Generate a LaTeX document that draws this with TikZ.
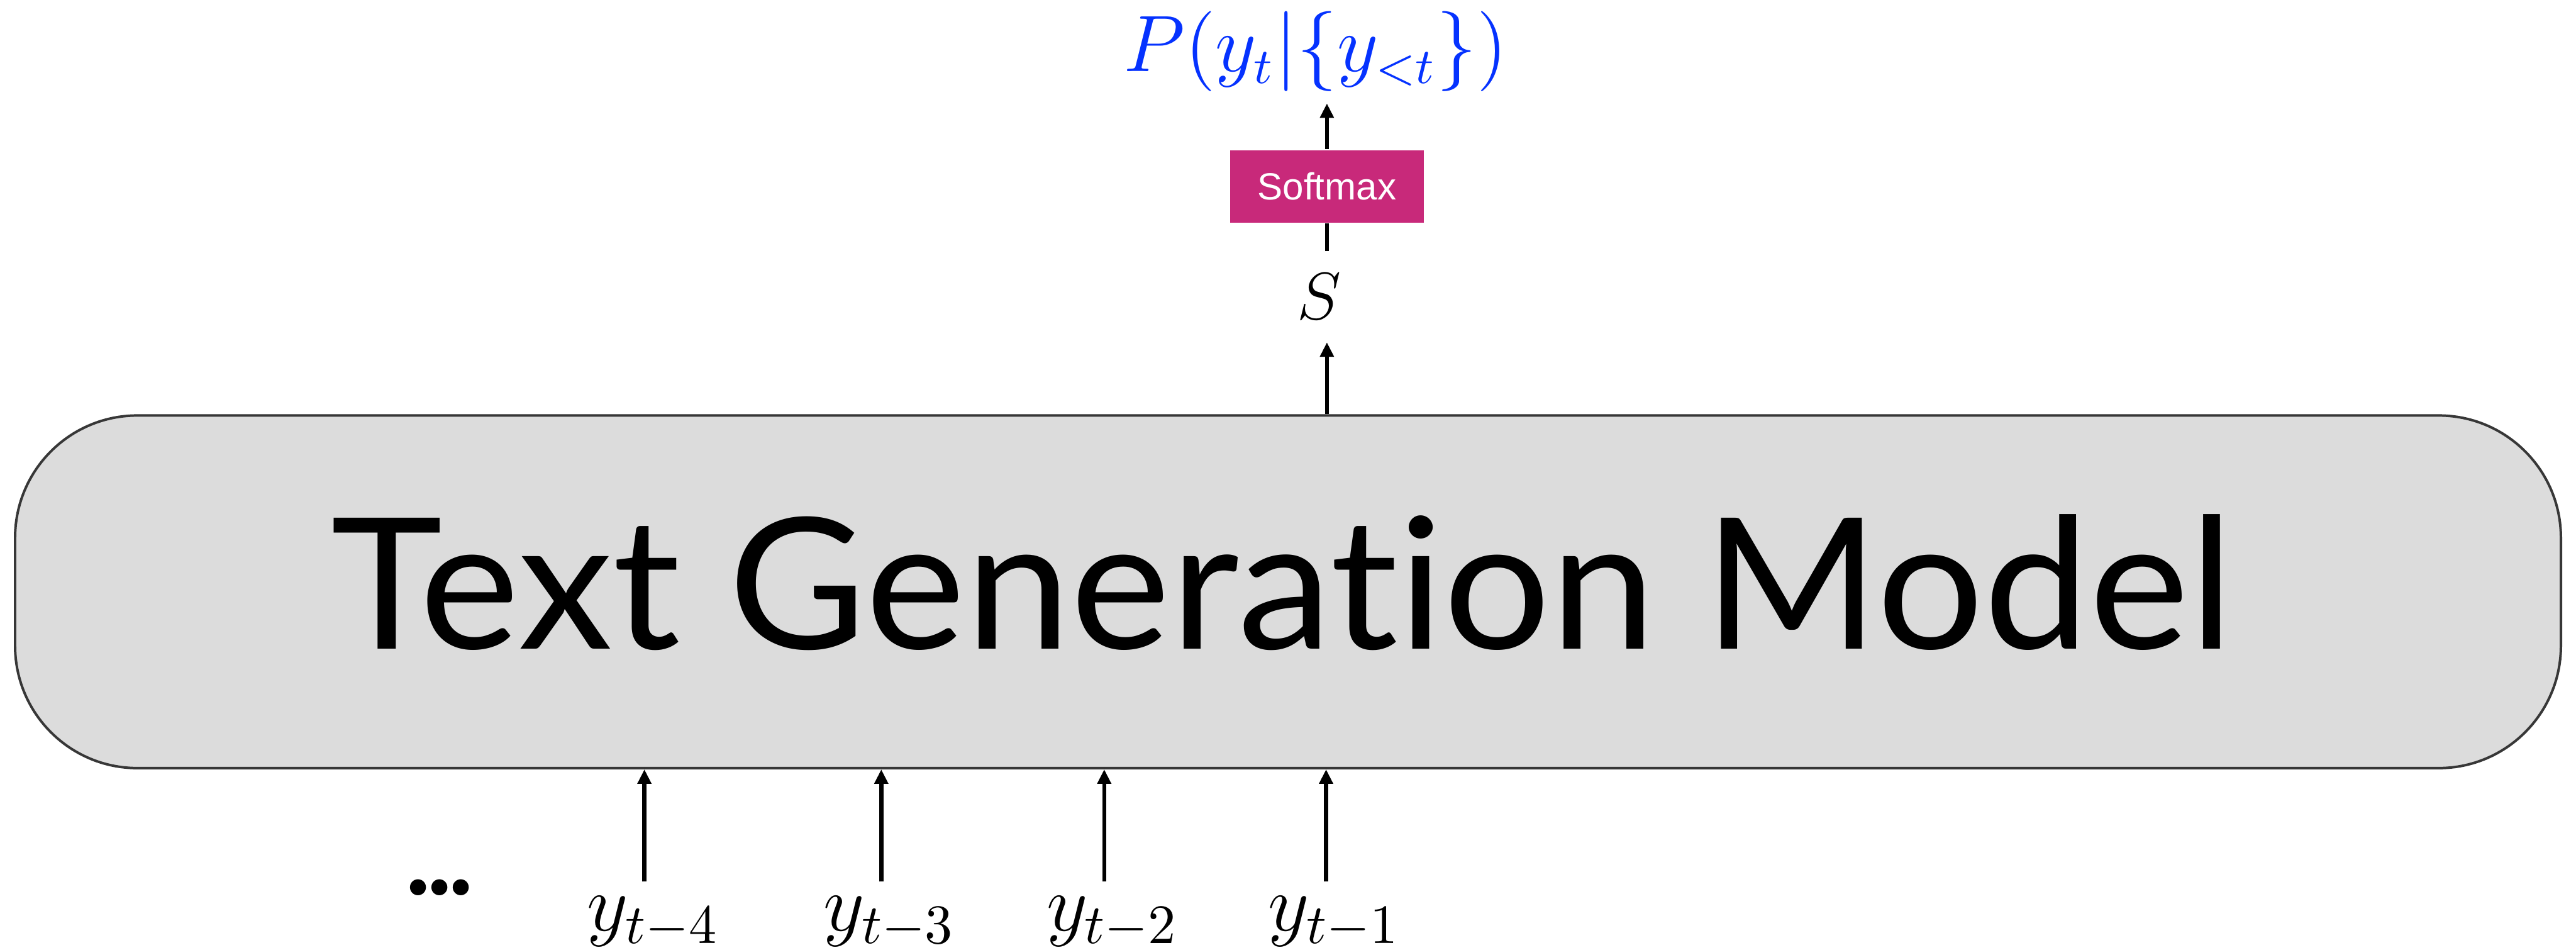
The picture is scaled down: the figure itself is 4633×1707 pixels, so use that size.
\documentclass[tikz,border=0pt]{standalone}
\usepackage{fontspec}
\usetikzlibrary{arrows.meta}
\newfontfamily\titlefont[Ligatures={NoCommon,NoRare,NoDiscretionary}]{Lato}
\newfontfamily\smfont{Liberation Sans}
\definecolor{boxgray}{RGB}{220,220,220}
\definecolor{boxedge}{RGB}{55,55,55}
\definecolor{smcol}{RGB}{200,41,122}
\definecolor{formblue}{RGB}{5,50,255}
\begin{document}
\begin{tikzpicture}[x=0.1pt,y=-0.1pt,
  arr/.style={line width=0.75pt,-{Triangle[width=2.4pt,length=2.6pt]}},
  plain/.style={line width=0.75pt},
  mathlbl/.style={inner xsep=0pt,inner ysep=2.5pt,font=\fontsize{14}{15}\selectfont},
  modelbox/.style={draw=boxedge,fill=boxgray,line width=0.45pt,rounded corners=22pt,
    minimum width=457.9pt,minimum height=63.4pt,inner sep=0pt},
  smbox/.style={fill=smcol,minimum width=34.9pt,minimum height=13pt,inner sep=0pt,
    text=white,font=\smfont\fontsize{6.8}{8}\selectfont}
]
\useasboundingbox (0,0) rectangle (4633,1707);

% main model box
\node[modelbox] (box) at (2316.5,1064) {};
\node[anchor=south west,inner sep=0pt] (title) at (594,1171)
  {\resizebox{342.1pt}{24.2pt}{\titlefont\fontsize{33}{33}\selectfont Text Generation Model}};

% output side
\node[inner xsep=0pt,inner ysep=3.9pt,font=\fontsize{13}{15}\selectfont] (S) at (2372,533.5) {$S$};
\node[smbox] (sm) at (2386.5,335) {Softmax};
\node[inner sep=0pt,anchor=south,text=formblue,font=\fontsize{13.5}{15}\selectfont]
  (P) at (2366,166) {$P(y_t|\{y_{<t}\})$};

\draw[arr] (box.north -| sm.south) -- (sm.south |- S.south);
\draw[plain] (sm.south |- S.north) -- (sm.south);
\draw[arr,shorten >=2pt] (sm.north) -- (sm.north |- P.south);

% inputs
\node[mathlbl,anchor=north] (y4) at (1175,1585) {$y_{t-4}$};
\node[mathlbl,anchor=north] (y3) at (1600,1585) {$y_{t-3}$};
\node[mathlbl,anchor=north] (y2) at (2001,1585) {$y_{t-2}$};
\node[mathlbl,anchor=north] (y1) at (2400,1585) {$y_{t-1}$};
\node[inner sep=0pt,font=\bfseries\fontsize{20}{20}\selectfont] (dots) at (791,1596)
  {.\kern-2.4pt.\kern-2.4pt.};

\foreach \n/\x in {y4/1159,y3/1585,y2/1986,y1/2385}{
  \coordinate (\n-top) at (\x,1585);
  \draw[arr] (\n-top) -- (\n-top |- box.south);
}
\end{tikzpicture}
\end{document}
